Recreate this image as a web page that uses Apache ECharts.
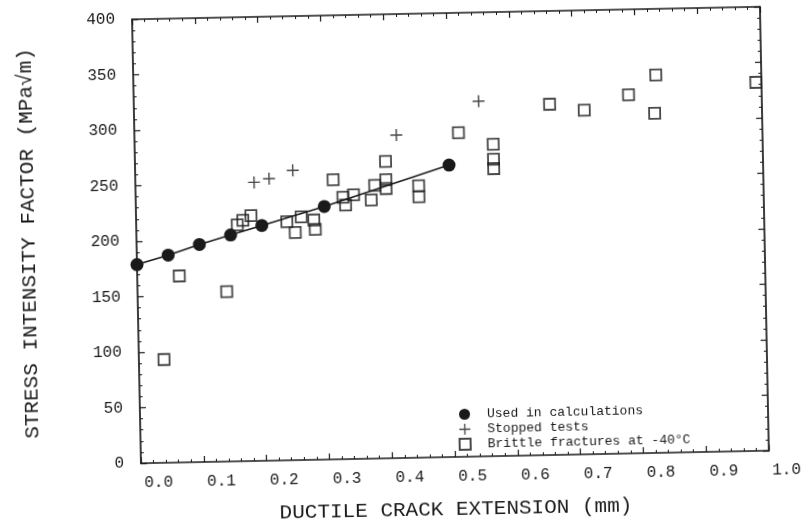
<!DOCTYPE html>
<html>
<head>
<meta charset="utf-8">
<script src="https://cdn.jsdelivr.net/npm/echarts@6/dist/echarts.min.js"></script>
<style>
html,body{margin:0;padding:0;background:#fff;overflow:hidden;}
#chart{width:803px;height:526px;transform:rotate(-1.15deg);transform-origin:50% 50%;}
</style>
</head>
<body>
<div id="chart"></div>
<script>
// Used in calculations (filled circles, joined by a line)
const usedX = [0, 0.05, 0.10, 0.15, 0.20, 0.30, 0.50];
const usedY = [179, 187, 196, 204, 212, 228, 263];
// Stopped tests (+)
const stoppedX = [0.189, 0.213, 0.251, 0.417, 0.549];
const stoppedY = [251, 254, 261, 291, 320];
// Brittle fractures at -40°C (open squares)
const brittleX = [0.040, 0.067, 0.142, 0.161, 0.170, 0.183, 0.240, 0.253, 0.263, 0.283, 0.285,
                  0.315, 0.330, 0.334, 0.347, 0.375, 0.381, 0.399, 0.399, 0.399, 0.451, 0.451,
                  0.516, 0.571, 0.571, 0.571, 0.662, 0.717, 0.788, 0.832, 0.829, 0.991];
const brittleY = [93, 168, 153, 213, 217, 221, 215, 205, 219, 216, 207.5,
                  252, 236, 229, 238, 233, 246, 267.5, 251, 243, 245, 235,
                  292, 281, 267.5, 259, 316, 310, 323, 340.5, 306, 332];
const xTicks = ['0.0','0.1','0.2','0.3','0.4','0.5','0.6','0.7','0.8','0.9','1.0'];
const seriesNames = ['Used in calculations', 'Stopped tests', 'Brittle fractures at -40°C'];

const zip = (xs, ys) => xs.map((x, i) => [x, ys[i]]);
const INK = '#1a1a1a';
const FONT = '"Liberation Mono", "DejaVu Sans Mono", monospace';
const plusPath = 'path://M4.4,0H5.6V4.4H10V5.6H5.6V10H4.4V5.6H0V4.4H4.4Z';

const axisLine = {show: true, onZero: false, lineStyle: {color: INK, width: 1.7}};
const tick = {inside: true, length: 6, lineStyle: {color: INK, width: 1.2}};
const minor = {show: true, splitNumber: 5, length: 3, lineStyle: {color: INK, width: 1}};

const chart = echarts.init(document.getElementById('chart'), null, {renderer: 'canvas'});
chart.setOption({
  backgroundColor: '#fff',
  animation: false,
  grid: {left: 137, top: 14, width: 628, height: 450},
  legend: {
    orient: 'vertical', left: 450, top: 404,
    itemWidth: 11, itemHeight: 11, itemGap: 2,
    textStyle: {fontFamily: FONT, fontSize: 13, lineHeight: 11, color: INK, padding: [0, 0, 0, 12]},
    data: [
      {name: seriesNames[0], icon: 'circle'},
      {name: seriesNames[1], icon: plusPath},
      {name: seriesNames[2], icon: 'rect'}
    ]
  },
  xAxis: [{
    type: 'value', min: 0, max: 1, interval: 0.1,
    name: 'DUCTILE CRACK EXTENSION (mm)', nameLocation: 'middle', nameGap: 42,
    nameTextStyle: {fontFamily: FONT, fontSize: 21, color: INK},
    axisLine: axisLine, axisTick: tick, minorTick: minor,
    splitLine: {show: false},
    axisLabel: {
      align: 'left', margin: 12, padding: [0, 0, 0, 3],
      fontFamily: FONT, fontSize: 16, color: INK,
      formatter: v => xTicks[Math.round(v * 10)]
    }
  }, {
    type: 'value', min: 0, max: 1, interval: 0.1, position: 'top',
    axisLine: axisLine, axisTick: tick, minorTick: minor,
    splitLine: {show: false}, axisLabel: {show: false}
  }],
  yAxis: [{
    type: 'value', min: 0, max: 400, interval: 50,
    name: 'STRESS INTENSITY FACTOR (MPa√m)', nameLocation: 'middle', nameGap: 97, nameRotate: 90,
    nameTextStyle: {fontFamily: FONT, fontSize: 21, color: INK},
    axisLine: axisLine, axisTick: tick, minorTick: minor,
    splitLine: {show: false},
    axisLabel: {margin: 17, fontFamily: FONT, fontSize: 16, color: INK, padding: [0, 0, 5, 0]}
  }, {
    type: 'value', min: 0, max: 400, interval: 50, position: 'right',
    axisLine: axisLine, axisTick: tick, minorTick: minor,
    splitLine: {show: false}, axisLabel: {show: false}
  }],
  series: [{
    name: seriesNames[0], type: 'line', xAxisIndex: 0, yAxisIndex: 0,
    data: zip(usedX, usedY),
    symbol: 'circle', symbolSize: 13,
    lineStyle: {color: INK, width: 1.6},
    itemStyle: {color: INK}, z: 3
  }, {
    name: seriesNames[1], type: 'scatter', xAxisIndex: 0, yAxisIndex: 0,
    data: zip(stoppedX, stoppedY),
    symbol: plusPath, symbolSize: 12,
    itemStyle: {color: INK}
  }, {
    name: seriesNames[2], type: 'scatter', xAxisIndex: 0, yAxisIndex: 0,
    data: zip(brittleX, brittleY),
    symbol: 'rect', symbolSize: 11,
    itemStyle: {color: 'rgba(0,0,0,0)', borderColor: INK, borderWidth: 1.8}
  }]
});
</script>
</body>
</html>
